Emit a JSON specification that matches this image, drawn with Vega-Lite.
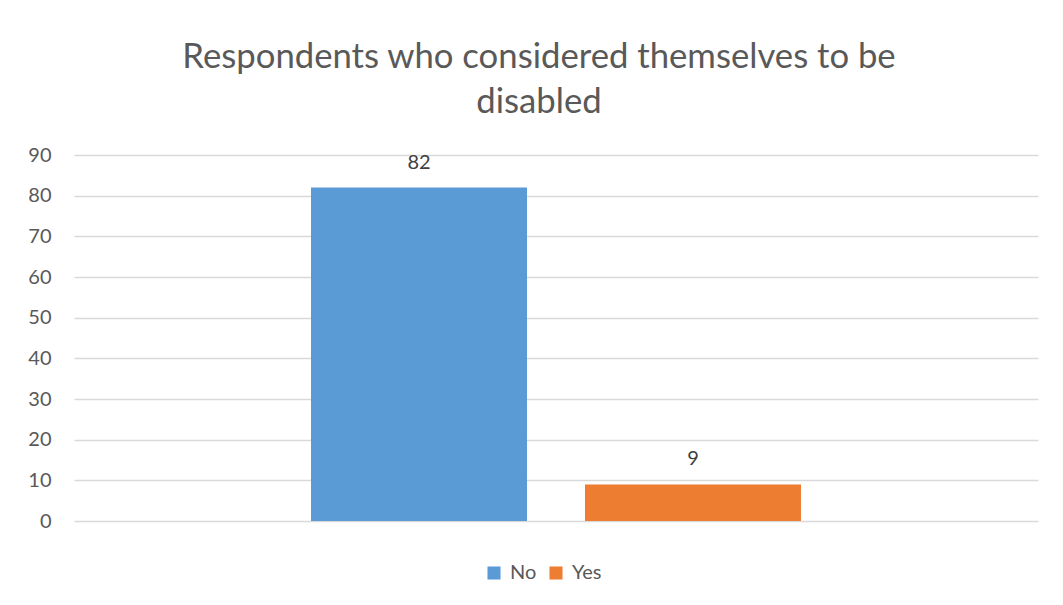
{
  "$schema": "https://vega.github.io/schema/vega-lite/v6.json",
  "width": 964,
  "height": 366,
  "autosize": {"type": "none"},
  "padding": {"left": 74, "top": 155, "right": 25, "bottom": 84},
  "background": "white",
  "config": {"font": "Lato", "view": {"stroke": null}},
  "title": {
    "text": ["Respondents who considered themselves to be", "disabled"],
    "fontSize": 34.7,
    "fontWeight": "normal",
    "color": "#595959",
    "lineHeight": 45,
    "anchor": "middle",
    "dx": -17,
    "offset": 24
  },
  "data": {
    "values": [
      {"answer": "No", "count": 82},
      {"answer": "Yes", "count": 9}
    ]
  },
  "encoding": {
    "x": {
      "field": "answer",
      "type": "nominal",
      "sort": ["No", "Yes"],
      "scale": {"paddingInner": 0.2117, "paddingOuter": 0.865},
      "axis": null
    },
    "y": {
      "field": "count",
      "type": "quantitative",
      "scale": {"domain": [0, 90]},
      "axis": {
        "title": null,
        "values": [0, 10, 20, 30, 40, 50, 60, 70, 80, 90],
        "domain": false,
        "ticks": false,
        "labelPadding": 23,
        "labelFontSize": 20,
        "labelColor": "#595959",
        "gridColor": "#D9D9D9",
        "gridWidth": 1.3
      }
    }
  },
  "layer": [
    {
      "mark": {"type": "bar"},
      "encoding": {
        "color": {
          "field": "answer",
          "type": "nominal",
          "scale": {"domain": ["No", "Yes"], "range": ["#5B9BD5", "#ED7D31"]},
          "legend": {
            "title": null,
            "orient": "none",
            "legendX": 410,
            "legendY": 408,
            "direction": "horizontal",
            "symbolType": "square",
            "symbolSize": 170,
            "symbolStrokeWidth": 0,
            "labelFontSize": 20,
            "labelColor": "#595959",
            "columnPadding": 9,
            "labelOffset": 6
          }
        }
      }
    },
    {
      "mark": {"type": "text", "dy": -19, "fontSize": 20, "color": "#404040", "baseline": "alphabetic"},
      "encoding": {"text": {"field": "count", "type": "quantitative"}}
    }
  ]
}
